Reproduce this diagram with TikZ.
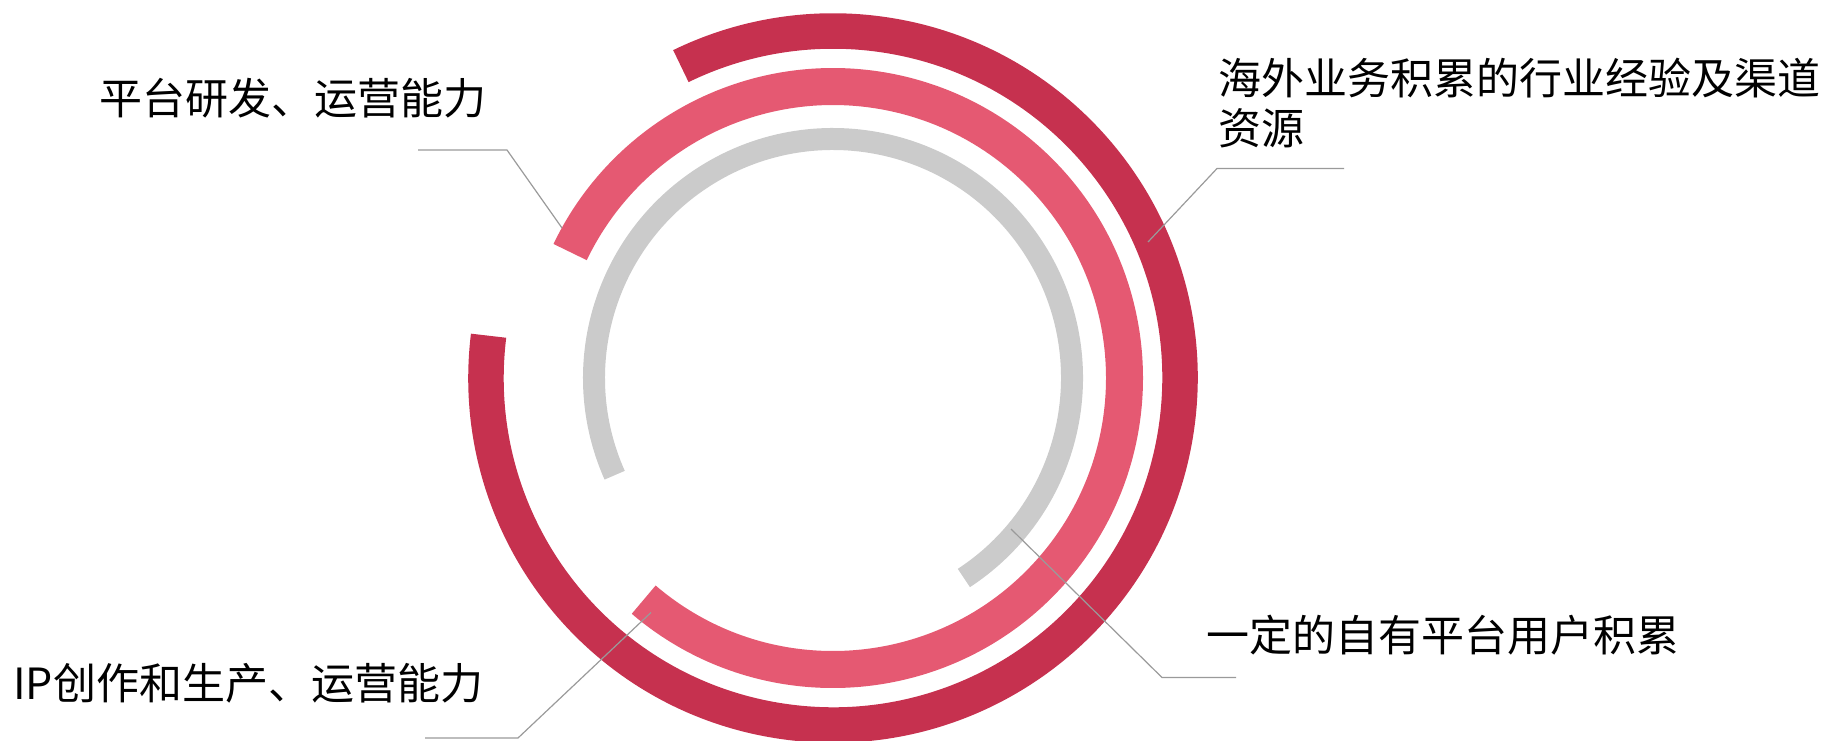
\documentclass[tikz,border=0pt]{standalone}
\usepackage{fontspec}
\newfontfamily\cjk{Noto Sans CJK SC}
\definecolor{darkred}{HTML}{C6314F}
\definecolor{pinkred}{HTML}{E55972}
\definecolor{ringgray}{HTML}{CBCBCB}
\definecolor{leadergray}{HTML}{9A9A9A}
\begin{document}
\begin{tikzpicture}[x=1pt,y=1pt,
  lbl/.style={font=\cjk\fontsize{43}{50}\selectfont, inner sep=0pt, anchor=base west, text=black, align=left},
  leader/.style={draw=leadergray, line width=1.2pt},
  ringline/.style={line width=#1, line cap=butt}]
\useasboundingbox (0,0) rectangle (1822,-741);
\coordinate (C) at (833,-378);
% rings
\draw[ringline=35.5pt, draw=darkred] (C) ++(173:347) arc[start angle=173, end angle=476, radius=347];
\draw[ringline=37pt, draw=pinkred] (C) ++(-130.5:291.5) arc[start angle=-130.5, end angle=154.4, radius=291.5];
\draw[ringline=22pt, draw=ringgray] (C) ++(-56.8:239) arc[start angle=-56.8, end angle=204, radius=239];
% labels
\node[lbl] (t1) at (99,-114) {平台研发、运营能力};
\node[lbl] (t2) at (1218,-144) {海外业务积累的行业经验及渠道\\资源};
\node[lbl] (t3) at (1206,-651) {一定的自有平台用户积累};
\node[lbl] (t4) at (13,-699) {IP创作和生产、运营能力};
% leader lines
\coordinate (p1) at (562,-228);
\coordinate (k1) at (507,-150);
\coordinate (e1) at (418,-150);
\coordinate (p2) at (1148,-242);
\coordinate (k2) at (1217,-168.5);
\coordinate (e2) at (1344,-168.5);
\coordinate (p3) at (1011,-529);
\coordinate (k3) at (1162,-677.5);
\coordinate (e3) at (1236,-677.5);
\coordinate (p4) at (651,-612.5);
\coordinate (k4) at (518,-738);
\coordinate (e4) at (425,-738);
\draw[leader] (p1) -- (k1) -- (e1);
\draw[leader] (p2) -- (k2) -- (e2);
\draw[leader] (p3) -- (k3) -- (e3);
\draw[leader] (p4) -- (k4) -- (e4);
\end{tikzpicture}
\end{document}
